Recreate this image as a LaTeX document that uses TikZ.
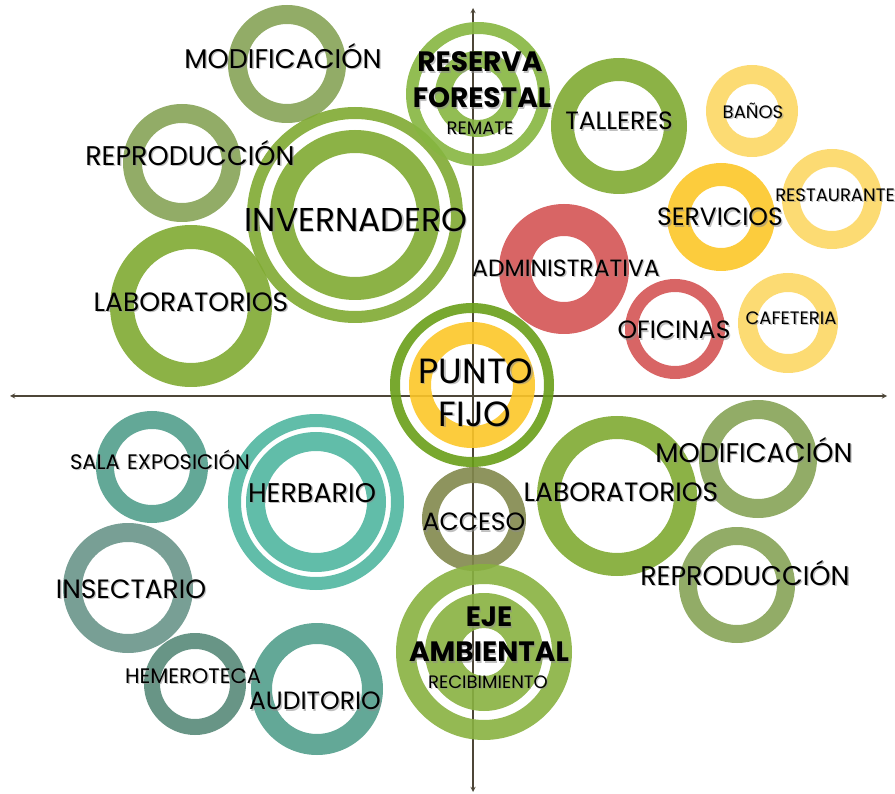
\documentclass[tikz,border=0pt]{standalone}
\usepackage{fontspec}
\setmainfont{Poppins}

% colores de los anillos
\definecolor{verde}{RGB}{128,170,50}
\definecolor{verdeclaro}{RGB}{134,182,64}
\definecolor{verdeeje}{RGB}{136,177,64}
\definecolor{verdeoscuro}{RGB}{105,158,24}
\definecolor{olivo}{RGB}{134,163,86}
\definecolor{olivacceso}{RGB}{130,136,76}
\definecolor{rojo}{RGB}{212,84,84}
\definecolor{amarillo}{RGB}{252,198,40}
\definecolor{amarilloclaro}{RGB}{252,215,100}
\definecolor{teal}{RGB}{82,158,140}
\definecolor{tealclaro}{RGB}{80,182,160}
\definecolor{tealgris}{RGB}{105,149,138}
\definecolor{tealoscuro}{RGB}{88,137,121}
\definecolor{eje}{RGB}{77,70,56}

% rótulo con sombra gris: [tamaño]{nombre}{x,y}{texto}
\newcommand\etiqueta[4][25]{%
  \node[rotulo=#1, text=black!45, text opacity=.55, xshift=1.3pt, yshift=-1.3pt] at (#3) {#4};
  \node[rotulo=#1] (#2) at (#3) {#4};}

\begin{document}
\begin{tikzpicture}[x=1pt, y=-1pt, >=stealth,
    anillo/.style={fill=#1, fill opacity=.9, even odd rule},
    rotulo/.style={inner sep=0pt, font=\fontsize{#1}{#1}\selectfont,
        text height=\dimexpr #1pt*7/10\relax, text depth=0pt}]
    \useasboundingbox (0,0) rectangle (895,794);

    % ejes
    \draw[<->, eje, line width=1.3pt] (10,396) -- (887,396);
    \draw[<->, eje, line width=1.3pt] (473,8) -- (473,792);

    % anillos: x/y/radio exterior/radio interior/color
    \foreach \cx/\cy/\ro/\ri/\col in {
        287/64/59/40/olivo, 182/163/59/40/olivo,
        355/215/108/96/verde, 355/215/85/62/verde,
        191/306/81/57/verde,
        478/94/72/60/verdeclaro, 478/94/43/26/verdeclaro,
        619/126/68/45/verde,
        752/111/46/27/amarilloclaro, 832/199/50/32/amarilloclaro,
        721/217/54/31/amarillo,
        564/269/65/33/rojo, 675/329/50/37/rojo,
        788/323/50/31/amarilloclaro,
        472/385/82/72/verdeoscuro, 472/385/63/41/amarillo,
        474/519/52/36/olivacceso,
        484/652/88/68/verdeeje, 484/652/59/24/verdeeje,
        617/496/80/57/verde,
        758/459/59/40/olivo, 737/585/58/40/olivo,
        152/467/56/38/teal,
        316/502/88/75/tealclaro, 316/502/70/51/tealclaro,
        128/588/65/46/tealgris,
        195/684/51/35/tealoscuro,
        317/689/66/45/teal}
        \fill[anillo=\col] (\cx,\cy) circle (\ro) (\cx,\cy) circle (\ri);

    % rótulos
    \etiqueta[27]{modif1}{283,59}{MODIFICACIÓN}
    \etiqueta[27]{repro1}{190,156}{REPRODUCCIÓN}
    \etiqueta[33]{invern}{356,220}{INVERNADERO}
    \etiqueta[26.5]{labo1}{191,302}{LABORATORIOS}
    \etiqueta[28]{reserva}{480,62}{\bfseries RESERVA}
    \etiqueta[28]{forestal}{482,98}{\bfseries FORESTAL}
    \etiqueta[18]{remate}{480,128}{REMATE}
    \etiqueta{talleres}{619,121}{TALLERES}
    \etiqueta[18]{banos}{753,112}{BAÑOS}
    \etiqueta[18]{restaurante}{835,195}{RESTAURANTE}
    \etiqueta{servicios}{720,217}{SERVICIOS}
    \etiqueta[23.5]{admin}{566,268}{ADMINISTRATIVA}
    \etiqueta{oficinas}{674,330}{OFICINAS}
    \etiqueta[18]{cafeteria}{791,318}{CAFETERIA}
    \etiqueta[35]{punto}{476,371}{PUNTO}
    \etiqueta[35]{fijo}{475,414}{FIJO}
    \etiqueta{acceso}{474,522}{ACCESO}
    \etiqueta[28]{ejeamb}{489,617}{\bfseries EJE}
    \etiqueta[28]{ambiental}{489,652}{\bfseries AMBIENTAL}
    \etiqueta[18]{recibe}{488,682}{RECIBIMIENTO}
    \etiqueta[26.5]{labo2}{621,492}{LABORATORIOS}
    \etiqueta[27]{modif2}{754,453}{MODIFICACIÓN}
    \etiqueta[27]{repro2}{745,576}{REPRODUCCIÓN}
    \etiqueta[21]{sala}{160,462}{SALA\hspace{.35em}EXPOSICIÓN}
    \etiqueta[27]{herbario}{312,493}{HERBARIO}
    \etiqueta[26.5]{insectario}{131,589}{INSECTARIO}
    \etiqueta[21]{hemeroteca}{193,676}{HEMEROTECA}
    \etiqueta{auditorio}{315,701}{AUDITORIO}
\end{tikzpicture}
\end{document}
